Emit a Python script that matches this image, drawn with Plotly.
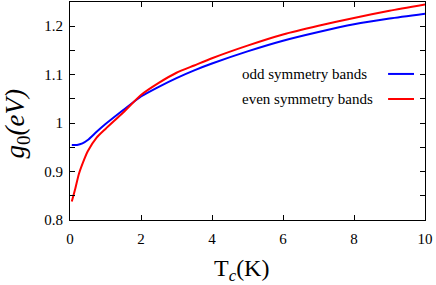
import plotly.graph_objects as go

# Data
tc_odd = [0.05, 0.2, 0.35, 0.5, 0.75, 1.0, 1.5, 2.0, 2.5, 3.0, 3.5, 4.0, 5.0, 6.0, 7.0, 8.0, 9.0, 10.0]
g0_odd = [0.955, 0.955, 0.958, 0.965, 0.982, 0.998, 1.027, 1.055, 1.075, 1.093, 1.109, 1.123,
          1.148, 1.170, 1.188, 1.204, 1.216, 1.226]

tc_even = [0.05, 0.15, 0.25, 0.4, 0.5, 0.75, 1.0, 1.5, 2.0, 2.5, 3.0, 3.5, 4.0, 5.0, 6.0, 7.0, 8.0, 9.0, 10.0]
g0_even = [0.838, 0.865, 0.895, 0.925, 0.942, 0.970, 0.988, 1.022, 1.058, 1.083, 1.104, 1.119,
           1.134, 1.160, 1.183, 1.201, 1.217, 1.232, 1.245]

x_ticks = [0, 2, 4, 6, 8, 10]
y_ticks = [0.8, 0.9, 1.0, 1.1, 1.2]
y_ticktext = ["0.8", "0.9", "1", "1.1", "1.2"]

series_names = ["odd symmetry bands", "even symmetry bands"]
series_colors = ["#0000ff", "#ff0000"]

FONT = "Liberation Serif"

fig = go.Figure()
fig.add_trace(go.Scatter(x=tc_odd, y=g0_odd, mode="lines", name=series_names[0],
                         line=dict(color=series_colors[0], width=2, shape="spline", smoothing=0.6)))
fig.add_trace(go.Scatter(x=tc_even, y=g0_even, mode="lines", name=series_names[1],
                         line=dict(color=series_colors[1], width=2, shape="spline", smoothing=0.6)))

axis_common = dict(showline=True, linecolor="black", linewidth=1, mirror="ticks",
                   ticks="inside", ticklen=5, tickcolor="black", tickwidth=1,
                   showgrid=False, zeroline=False,
                   tickfont=dict(family=FONT, size=15, color="black"))

fig.update_xaxes(range=[0, 10], tickvals=x_ticks, ticklabelstandoff=5, **axis_common)
fig.update_yaxes(range=[0.8, 1.25], tickvals=y_ticks, ticktext=y_ticktext, ticklabelstandoff=3,
                 minor=dict(ticks="inside", ticklen=5, tickcolor="black", dtick=0.05, tick0=0.8,
                            showgrid=False),
                 **axis_common)

annotations = [
    dict(text="T<sub><i>c</i></sub>(K)", x=0.482, y=-0.229, xref="paper", yref="paper",
         xanchor="center", yanchor="middle", showarrow=False,
         font=dict(family=FONT, size=24, color="black")),
    dict(text="<i>g</i><sub>0</sub><i>(eV)</i>", x=-0.148, y=0.44, xref="paper", yref="paper",
         xanchor="center", yanchor="middle", showarrow=False, textangle=-90,
         font=dict(family=FONT, size=27, color="black")),
]
legend_y = [0.670, 0.555]
shapes = []
for name, color, ly in zip(series_names, series_colors, legend_y):
    annotations.append(dict(text=name, x=0.479, y=ly, xref="paper", yref="paper",
                            xanchor="left", yanchor="middle", showarrow=False,
                            font=dict(family=FONT, size=15, color="black")))
    shapes.append(dict(type="line", xref="paper", yref="paper", x0=0.896, x1=0.969,
                       y0=ly, y1=ly, line=dict(color=color, width=2)))

fig.update_layout(width=436, height=285, autosize=False,
                  margin=dict(l=70, r=11, t=2, b=65),
                  font=dict(family=FONT, color="black"),
                  paper_bgcolor="white", plot_bgcolor="white",
                  showlegend=False, annotations=annotations, shapes=shapes)

fig.write_html("out.html", config={"displayModeBar": False},
               post_script="document.body.style.margin='0';document.body.style.overflow='hidden';")
